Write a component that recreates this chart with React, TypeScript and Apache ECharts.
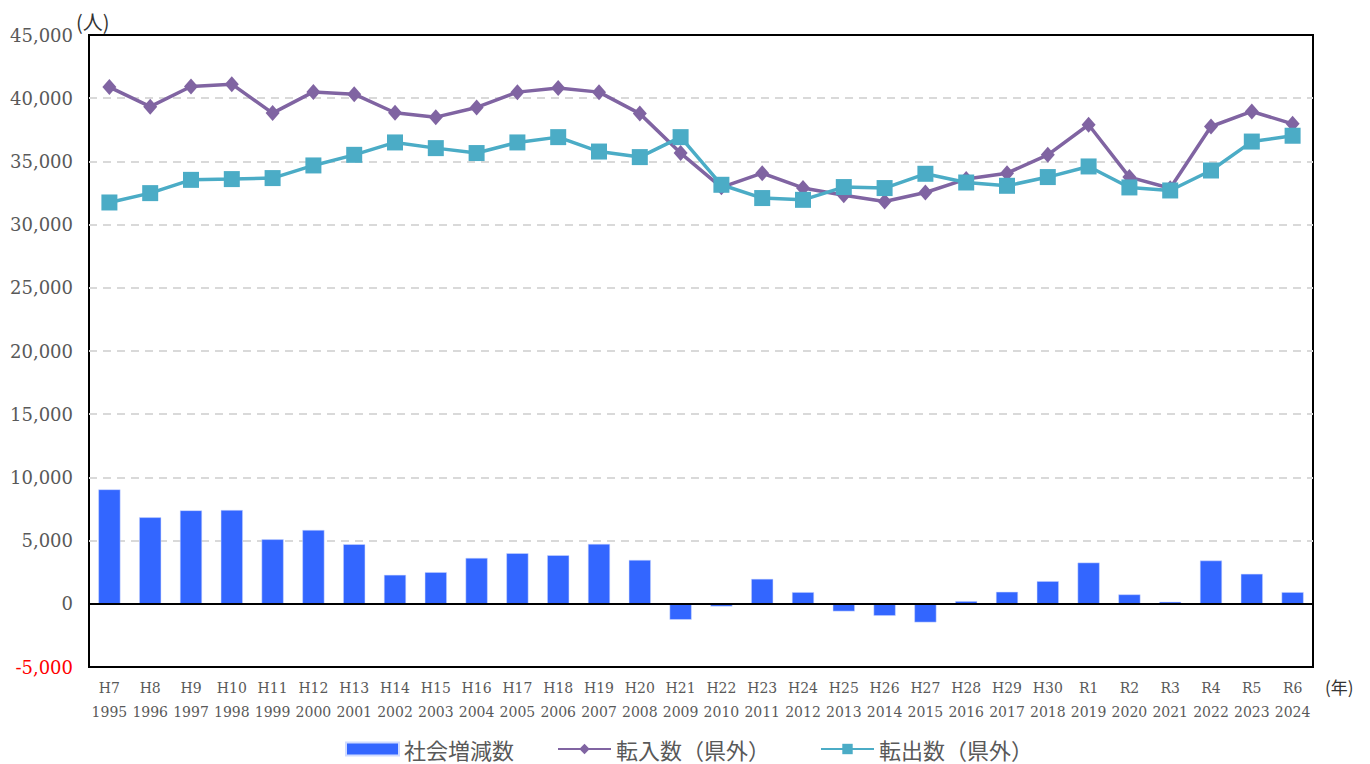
import React, { useEffect, useRef } from "react";
import * as echarts from "echarts";

const eras = ["H7","H8","H9","H10","H11","H12","H13","H14","H15","H16","H17","H18","H19","H20","H21","H22","H23","H24","H25","H26","H27","H28","H29","H30","R1","R2","R3","R4","R5","R6"];
const years = ["1995","1996","1997","1998","1999","2000","2001","2002","2003","2004","2005","2006","2007","2008","2009","2010","2011","2012","2013","2014","2015","2016","2017","2018","2019","2020","2021","2022","2023","2024"];

const socialChange = [9050, 6840, 7390, 7420, 5100, 5840, 4710, 2290, 2500, 3630, 4000, 3840, 4740, 3470, -1260, -210, 1970, 920, -600, -950, -1470, 210, 950, 1790, 3260, 740, 160, 3420, 2370, 920];
const inflow = [40880, 39330, 40930, 41110, 38820, 40500, 40320, 38850, 38500, 39270, 40480, 40800, 40480, 38780, 35660, 32950, 34070, 32900, 32320, 31830, 32540, 33600, 34070, 35520, 37900, 33760, 32880, 37760, 38950, 37970];
const outflow = [31750, 32490, 33540, 33600, 33680, 34680, 35520, 36500, 36050, 35660, 36500, 36920, 35780, 35340, 36920, 33150, 32100, 31960, 32970, 32890, 34020, 33330, 33070, 33760, 34600, 32940, 32700, 34280, 36570, 37030];

const seriesNames = ["社会増減数", "転入数（県外）", "転出数（県外）"];
const yUnit = "(人)";
const xUnit = "(年)";

const FONT = "'DejaVu Serif', 'Noto Sans CJK JP', serif";
const CJK = "'Noto Sans CJK JP', sans-serif";
const GRAY = "#595959";

export default function App() {
  const ref = useRef<HTMLDivElement>(null);
  useEffect(() => {
    if (!ref.current) return;
    const chart = echarts.init(ref.current, null, { renderer: "svg" });
    const categories = eras.map((e, i) => e + "\n" + years[i]);
    const gridColors = ["rgba(0,0,0,0)"];
    for (let i = 0; i < 9; i++) gridColors.push("#D9D9D9");
    gridColors.push("rgba(0,0,0,0)");
    const legendLefts = [345, 557, 820];
    const legendIcons = ["rect", undefined, undefined];
    const legends = seriesNames.map((name, i) => ({
      top: 738,
      left: legendLefts[i],
      itemWidth: 53,
      itemHeight: 13,
      padding: 0,
      textStyle: { fontSize: 22, lineHeight: 22, color: GRAY, fontFamily: CJK },
      data: [legendIcons[i] ? { name, icon: legendIcons[i] } : { name }],
    }));
    chart.setOption({
      animation: false,
      backgroundColor: "#fff",
      textStyle: { fontFamily: FONT },
      grid: {
        left: 89, right: 57, top: 35, bottom: 97,
        show: true, borderColor: "#000", borderWidth: 2, backgroundColor: "transparent",
      },
      legend: legends,
      xAxis: {
        type: "category",
        data: categories,
        axisLine: { show: false, onZero: false },
        axisTick: { show: false },
        axisLabel: { color: GRAY, fontSize: 14, lineHeight: 24, margin: 9, interval: 0, fontFamily: FONT },
      },
      yAxis: {
        type: "value",
        min: -5000, max: 45000, interval: 5000,
        axisLine: { show: false },
        axisTick: { show: false },
        axisLabel: {
          margin: 16,
          fontSize: 18,
          fontFamily: FONT,
          color: (v: any) => (Number(v) < 0 ? "#FF0000" : GRAY),
          formatter: (v: number) => v.toLocaleString("en-US"),
        },
        splitLine: { lineStyle: { color: gridColors, type: [8, 6], width: 2 } },
      },
      graphic: [
        { type: "text", left: 76, top: 11, style: { text: yUnit, fontSize: 20, fill: "#333", fontFamily: CJK } },
        { type: "text", left: 1325, top: 678, style: { text: xUnit, fontSize: 17, fill: "#333", fontFamily: CJK } },
      ],
      series: [
        {
          name: seriesNames[0],
          type: "bar",
          data: socialChange,
          barWidth: "54%",
          itemStyle: { color: "#3366FF", borderColor: "#D0DBFF", borderWidth: 0.5 },
          markLine: {
            silent: true,
            symbol: "none",
            label: { show: false },
            lineStyle: { color: "#000", width: 2, type: "solid" },
            data: [{ yAxis: 0 }],
          },
        },
        {
          name: seriesNames[1],
          type: "line",
          data: inflow,
          symbol: "diamond",
          symbolSize: [14, 16],
          lineStyle: { color: "#8064A2", width: 3.5 },
          itemStyle: { color: "#8064A2" },
        },
        {
          name: seriesNames[2],
          type: "line",
          data: outflow,
          symbol: "rect",
          symbolSize: 16,
          lineStyle: { color: "#4BACC6", width: 3.5 },
          itemStyle: { color: "#4BACC6" },
        },
      ],
    });
    return () => chart.dispose();
  }, []);
  return <div ref={ref} style={{ position: "absolute", left: 0, top: 0, width: 1370, height: 764 }} />;
}
